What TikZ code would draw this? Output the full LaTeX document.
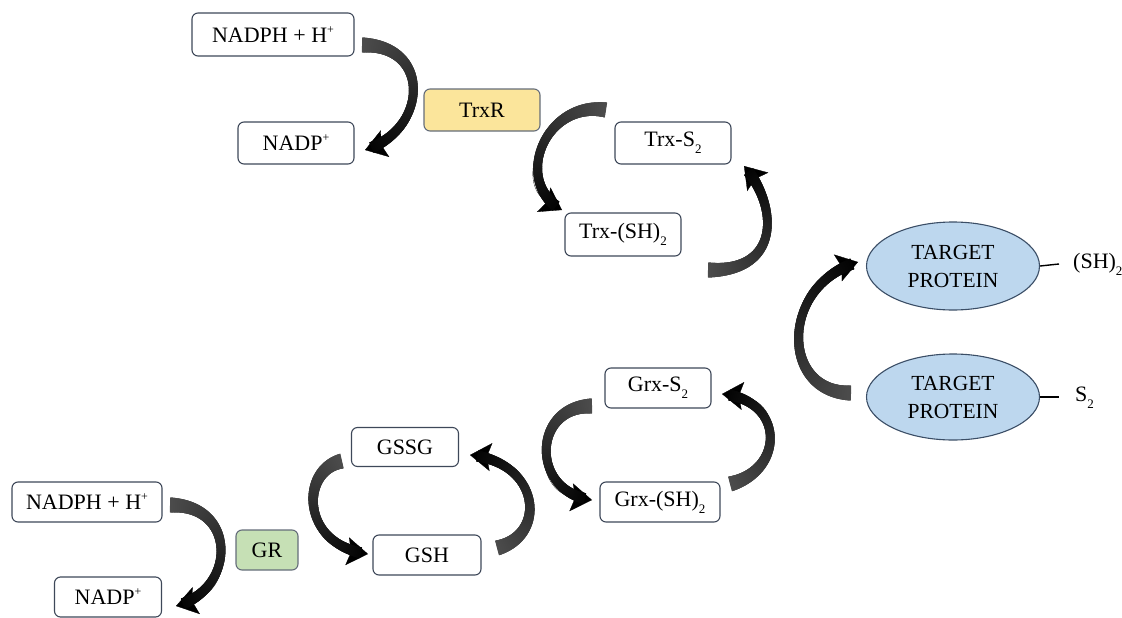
\documentclass[tikz,border=0pt]{standalone}
\usepackage{fontspec}
\setmainfont{Liberation Serif}
\usetikzlibrary{arrows.meta,shapes.geometric,decorations.markings}
\definecolor{boxline}{HTML}{3E4859}
\definecolor{trxfill}{HTML}{FBE59B}
\definecolor{grfill}{HTML}{C6E0B5}
\definecolor{protfill}{HTML}{BDD7EE}
\definecolor{protline}{HTML}{3B4E66}
\newcommand\subtwo{\raisebox{-0.33em}{\fontsize{13}{13}\selectfont 2}}
\newcommand\supplus{\raisebox{0.42em}{\fontsize{12}{12}\selectfont +}}
\newcommand\bandmark{%
  \pgfmathsetmacro\myt{\pgfkeysvalueof{/pgf/decoration/mark info/distance from start}/\pgfdecoratedpathlength}%
  \pgfmathsetmacro\myr{7.5-11*\myt+9.5*\myt*\myt}%
  \pgfmathsetmacro\myc{70+30*\myt}%
  \fill[black!\myc] (-0.5pt,-\myr pt) rectangle (0.5pt,\myr pt);}
\tikzset{
  box/.style={draw=boxline, line width=1.1pt, rounded corners=6pt, fill=white,
    minimum height=42pt, inner sep=0pt, font=\fontsize{22}{26}\selectfont},
  prot/.style={ellipse, draw=protline, fill=protfill, line width=1.1pt,
    minimum width=173pt, minimum height=88pt, inner sep=0pt, align=center,
    font=\fontsize{21.5}{28}\selectfont},
  band/.style={decoration={markings,
    mark=between positions 0.5pt and -9pt step 0.3pt with {\bandmark}},
    postaction={decorate}},
  curvarrow/.style={draw=black, line width=0.3pt,
    -{Stealth[length=21pt,width=28pt,inset=4pt]}, band},
  tick/.style={draw=black, line width=1.4pt},
  lbl/.style={anchor=west, inner sep=0pt, font=\fontsize{22}{26}\selectfont}
}
\begin{document}
\begin{tikzpicture}[x=1pt,y=-1pt]
\useasboundingbox (0,0) rectangle (1122,618);
% nodes
\node[box, minimum width=162pt, minimum height=43pt] (nadph1) at (273,34.5) {NADPH + H\supplus};
\node[box, minimum width=116pt] (nadp1) at (296,143) {NADP\supplus};
\node[box, minimum width=116pt, fill=trxfill, draw=boxline!80] (trxr) at (482,110) {TrxR};
\node[box, minimum width=116pt] (trxs2) at (673,143) {Trx-S\subtwo};
\node[box, minimum width=116pt, minimum height=43pt] (trxsh) at (623,234.5) {Trx-(SH)\subtwo};
\node[prot] (tp1) at (953,266) {TARGET\\PROTEIN};
\node[prot, minimum height=86pt] (tp2) at (953,397) {TARGET\\PROTEIN};
\node[box, minimum width=106pt, minimum height=40pt] (grxs2) at (658,388) {Grx-S\subtwo};
\node[box, minimum width=120pt, minimum height=40pt] (grxsh) at (660,502) {Grx-(SH)\subtwo};
\node[box, minimum width=107pt, minimum height=39pt] (gssg) at (405,447) {GSSG};
\node[box, minimum width=108pt, minimum height=40pt] (gsh) at (427,555) {GSH};
\node[box, minimum width=62pt, minimum height=40pt, fill=grfill, draw=boxline!80] (gr) at (267,550) {GR};
\node[box, minimum width=150pt, minimum height=40pt] (nadph2) at (87,502) {NADPH + H\supplus};
\node[box, minimum width=107pt, minimum height=40pt] (nadp2) at (108,597) {NADP\supplus};
% side labels
\coordinate (t1) at (1059,264);
\coordinate (t2) at (1059,397);
\draw[tick] (tp1.east) -- (t1);
\draw[tick] (tp2.east) -- (t2);
\node[lbl] (sh2) at (1073,264) {(SH)\subtwo};
\node[lbl] (s2) at (1075,398) {S\subtwo};
% arrow end points
\coordinate (a1s) at (362,45);   \coordinate (a1e) at (365,150);
\coordinate (a2s) at (606,110);  \coordinate (a2e) at (562,210);
\coordinate (a3s) at (708,270);  \coordinate (a3e) at (744,166);
\coordinate (a4s) at (851,393);  \coordinate (a4e) at (858,262);
\coordinate (a5s) at (730,484);  \coordinate (a5e) at (722,394);
\coordinate (a6s) at (592,406);  \coordinate (a6e) at (592,500);
\coordinate (a7s) at (497,548);  \coordinate (a7e) at (470,455);
\coordinate (a8s) at (342,461);  \coordinate (a8e) at (368,554);
\coordinate (a9s) at (170,505);  \coordinate (a9e) at (176,606);
% curved arrows
\draw[curvarrow] (a1s) .. controls (432,45) and (428,130) .. (a1e);
\draw[curvarrow] (a2s) .. controls (545,100) and (512,182) .. (a2e);
\draw[curvarrow] (a3s) .. controls (782,272) and (778,205) .. (a3e);
\draw[curvarrow] (a4s) .. controls (780,393) and (780,285) .. (a4e);
\draw[curvarrow] (a5s) .. controls (785,470) and (785,400) .. (a5e);
\draw[curvarrow] (a6s) .. controls (532,406) and (530,492) .. (a6e);
\draw[curvarrow] (a7s) .. controls (548,535) and (540,462) .. (a7e);
\draw[curvarrow] (a8s) .. controls (300,470) and (300,545) .. (a8e);
\draw[curvarrow] (a9s) .. controls (238,505) and (236,590) .. (a9e);
\end{tikzpicture}
\end{document}
